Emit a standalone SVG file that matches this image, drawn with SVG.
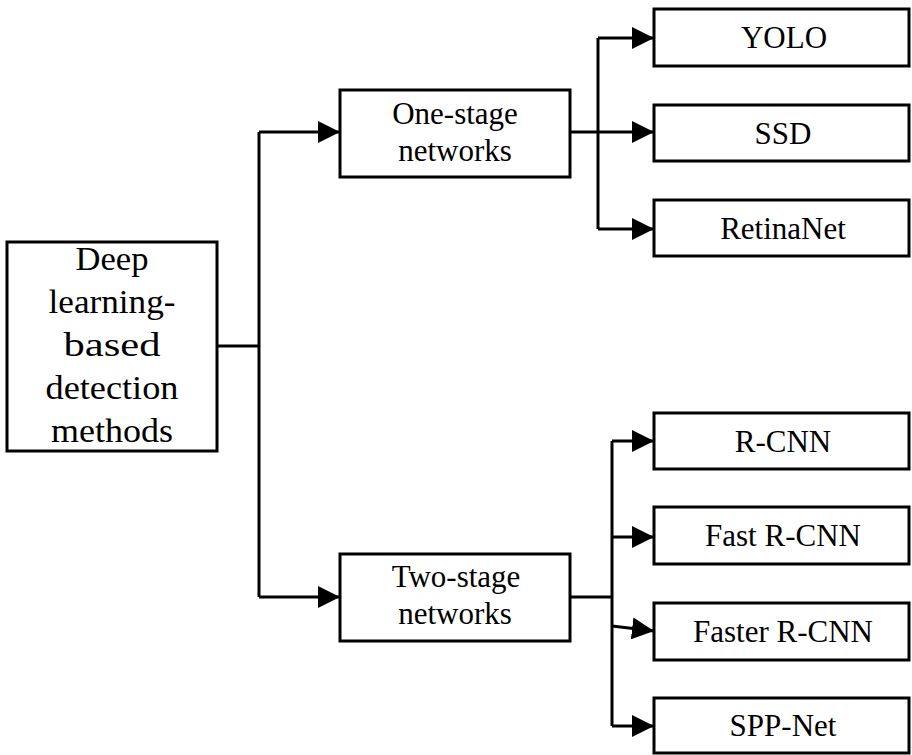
<svg xmlns="http://www.w3.org/2000/svg" width="912" height="755" viewBox="0 0 912 755">
<style>
.box{fill:#fff;stroke:#000;stroke-width:3}
.t{font-family:"Liberation Serif","Times New Roman",serif;font-size:31px;fill:#000;text-anchor:middle}
.m{font-family:"Liberation Serif","Times New Roman",serif;font-size:34px;fill:#000;text-anchor:middle}
.c{fill:none;stroke:#000;stroke-width:3}
</style>
<defs>
<marker id="ah" markerUnits="userSpaceOnUse" markerWidth="22" markerHeight="22" refX="22" refY="11" orient="auto">
<path d="M0,0 L22,11 L0,22 z" fill="#000"/>
</marker>
</defs>
<rect width="912" height="755" fill="#fff"/>
<g id="connectors">
<path class="c" d="M217,346 H259"/>
<path class="c" d="M259,132 V597"/>
<path class="c" d="M259,132 H340" marker-end="url(#ah)"/>
<path class="c" d="M259,597 H340" marker-end="url(#ah)"/>
<path class="c" d="M570,132 H654" marker-end="url(#ah)"/>
<path class="c" d="M598,38 V229"/>
<path class="c" d="M598,38 H654" marker-end="url(#ah)"/>
<path class="c" d="M598,229 H654" marker-end="url(#ah)"/>
<path class="c" d="M570,597 H612"/>
<path class="c" d="M612,441 V726"/>
<path class="c" d="M612,441 H654" marker-end="url(#ah)"/>
<path class="c" d="M612,537 H654" marker-end="url(#ah)"/>
<path class="c" d="M612,626 L654,631" marker-end="url(#ah)"/>
<path class="c" d="M612,726 H654" marker-end="url(#ah)"/>
</g>
<g id="root">
<rect class="box" x="7" y="242" width="210" height="209"/>
<text class="m" x="112" y="270" textLength="73" lengthAdjust="spacingAndGlyphs">Deep</text>
<text class="m" x="112" y="313" textLength="127" lengthAdjust="spacingAndGlyphs">learning-</text>
<text class="m" x="112" y="356" textLength="97" lengthAdjust="spacingAndGlyphs">based</text>
<text class="m" x="112" y="399" textLength="133" lengthAdjust="spacingAndGlyphs">detection</text>
<text class="m" x="112" y="442" textLength="122" lengthAdjust="spacingAndGlyphs">methods</text>
</g>
<g id="one-stage">
<rect class="box" x="340" y="90" width="230" height="87"/>
<text class="t" x="455" y="124">One-stage</text>
<text class="t" x="455" y="161">networks</text>
</g>
<g id="two-stage">
<rect class="box" x="340" y="554" width="230" height="87"/>
<text class="t" x="456" y="587">Two-stage</text>
<text class="t" x="455" y="624">networks</text>
</g>
<g id="yolo">
<rect class="box" x="654" y="9" width="255" height="57"/>
<text class="t" x="784" y="48">YOLO</text>
</g>
<g id="ssd">
<rect class="box" x="654" y="105" width="255" height="56"/>
<text class="t" x="783" y="144">SSD</text>
</g>
<g id="retinanet">
<rect class="box" x="654" y="200" width="255" height="56"/>
<text class="t" x="783" y="239">RetinaNet</text>
</g>
<g id="rcnn">
<rect class="box" x="654" y="413" width="255" height="56"/>
<text class="t" x="783" y="452">R-CNN</text>
</g>
<g id="fast-rcnn">
<rect class="box" x="654" y="507" width="255" height="57"/>
<text class="t" x="783" y="546">Fast R-CNN</text>
</g>
<g id="faster-rcnn">
<rect class="box" x="654" y="603" width="255" height="57"/>
<text class="t" x="783" y="642">Faster R-CNN</text>
</g>
<g id="spp-net">
<rect class="box" x="654" y="698" width="255" height="55"/>
<text class="t" x="783" y="736">SPP-Net</text>
</g>
</svg>
